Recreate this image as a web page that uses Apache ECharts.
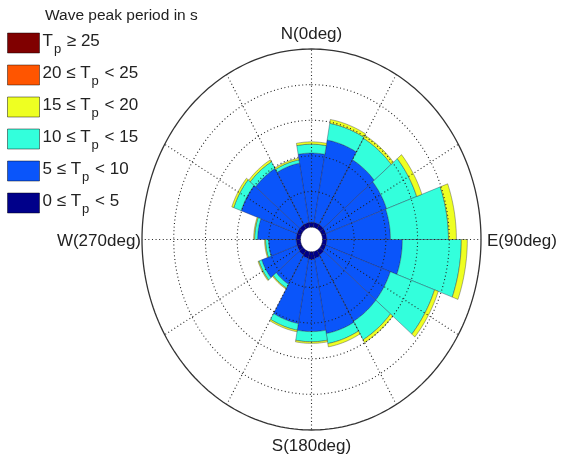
<!DOCTYPE html>
<html>
<head>
<meta charset="utf-8">
<script src="https://cdn.jsdelivr.net/npm/echarts@6/dist/echarts.min.js"></script>
<style>html,body{margin:0;padding:0;background:#fff}#c{width:561px;height:458px}</style>
</head>
<body>
<div id="c"></div>
<script>
// Direction bins (degrees, clockwise from North), 20 deg wide
const directions = [0,20,40,60,80,100,120,140,160,180,200,220,240,260,280,300,320,340];
// Frequency per class (%, one ring = 2 %)
const tp0to5   = [0.28,0.28,0.28,0.28,0.28,0.28,0.28,0.32,0.38,0.44,0.38,0.32,0.28,0.28,0.28,0.28,0.28,0.28];
const tp5to10  = [3.88,4.70,4.20,4.07,4.01,4.76,4.32,4.29,4.29,4.04,3.72,1.89,2.37,1.74,2.43,3.75,3.63,3.38];
const tp10to15 = [0.50,0.95,1.39,2.02,3.66,3.72,2.97,1.20,0.57,0.57,0.38,0.25,0.19,0.19,0.19,0.50,0.44,0.19];
const tp15to20 = [0.13,0.22,0.19,0.35,0.50,0.38,0.25,0.19,0.19,0.09,0.09,0.06,0.06,0.06,0.06,0.13,0.13,0.09];
const tp20to25 = [0,0,0,0,0,0,0,0,0,0,0,0,0,0,0,0,0,0];
const tp25up   = [0,0,0,0,0,0,0,0,0,0,0,0,0,0,0,0,0,0];

const classNames  = ['0-5','5-10','10-15','15-20','20-25','25+'];
const classLabels = {
  '25+':   '{t|T}{s|p}{t| ≥ 25}',
  '20-25': '{t|20 ≤ T}{s|p}{t| < 25}',
  '15-20': '{t|15 ≤ T}{s|p}{t| < 20}',
  '10-15': '{t|10 ≤ T}{s|p}{t| < 15}',
  '5-10':  '{t|5 ≤ T}{s|p}{t| < 10}',
  '0-5':   '{t|0 ≤ T}{s|p}{t| < 5}'
};
const classColors = ['#00008a','#0a55fa','#33ffdc','#eeff22','#ff5500','#800000'];
const ringPercents = [2,4,6,8];
const outerPercent = 10;
const spokeAngles = [0,30,60,90,120,150,180,210,240,270,300,330];
const hub = 0.69;          // radius of the empty centre (in % units)
const binWidth = 20;

const FONT = "'Liberation Sans', Arial, Helvetica, sans-serif";
const R = hub + outerPercent;

const classes = [tp0to5,tp5to10,tp10to15,tp15to20,tp20to25,tp25up];
const cum = directions.map(() => 0);

function pt(api, r, degs) {
  const a = degs * Math.PI / 180;
  return api.coord([(hub + r) * Math.sin(a), (hub + r) * Math.cos(a)]);
}

const series = [];
classes.forEach((arr, ci) => {
  const data = directions.map((d, i) => {
    const s = cum[i]; const e = s + arr[i]; cum[i] = e;
    return [0, 0, d, s, e];
  });
  series.push({
    type: 'custom', name: classNames[ci], coordinateSystem: 'cartesian2d',
    encode: { x: 0, y: 1 }, clip: false, z: 2, silent: true,
    itemStyle: { color: classColors[ci] },
    data: data,
    renderItem: function (params, api) {
      const dir = api.value(2), r0 = api.value(3), r1 = api.value(4);
      if (r1 - r0 <= 0.0001) return null;
      const a0 = dir - binWidth / 2, a1 = dir + binWidth / 2, n = 16;
      const pts = [];
      for (let k = 0; k <= n; k++) pts.push(pt(api, r1, a0 + (a1 - a0) * k / n));
      for (let k = n; k >= 0; k--) pts.push(pt(api, r0, a0 + (a1 - a0) * k / n));
      return { type: 'polygon', shape: { points: pts },
        style: { fill: api.visual('color'), stroke: 'rgba(30,30,60,0.5)', lineWidth: 0.7 } };
    }
  });
});

function ringItem(dash, width, color) {
  return function (params, api) {
    const r = api.value(2); const pts = [];
    for (let k = 0; k <= 240; k++) pts.push(pt(api, r, k * 360 / 240));
    return { type: 'polyline', shape: { points: pts },
      style: { fill: null, stroke: color, lineWidth: width, lineDash: dash } };
  };
}
series.push({
  type: 'custom', coordinateSystem: 'cartesian2d', encode: { x: 0, y: 1 }, clip: false, z: 5, silent: true,
  data: ringPercents.map(r => [0, 0, r]), renderItem: ringItem([1, 2.6], 1.1, '#222')
});
series.push({
  type: 'custom', coordinateSystem: 'cartesian2d', encode: { x: 0, y: 1 }, clip: false, z: 5, silent: true,
  data: [[0, 0, outerPercent]], renderItem: ringItem(null, 1.3, '#333')
});
series.push({
  type: 'custom', coordinateSystem: 'cartesian2d', encode: { x: 0, y: 1 }, clip: false, z: 5, silent: true,
  data: spokeAngles.map(a => [0, 0, a]),
  renderItem: function (params, api) {
    const a = api.value(2);
    const p0 = pt(api, 0, a), p1 = pt(api, outerPercent, a);
    return { type: 'line', shape: { x1: p0[0], y1: p0[1], x2: p1[0], y2: p1[1] },
      style: { stroke: '#222', lineWidth: 1.1, lineDash: [1, 2.6] } };
  }
});

const chart = echarts.init(document.getElementById('c'), null, { renderer: 'canvas' });
chart.setOption({
  animation: false,
  backgroundColor: '#fff',
  title: { text: 'Wave peak period in s', left: 40, top: 3,
    textStyle: { fontFamily: FONT, fontSize: 15.5, fontWeight: 'normal', color: '#222' } },
  legend: {
    orient: 'vertical', left: 7, top: 30, padding: 0, itemWidth: 32, itemHeight: 20, itemGap: 6,
    icon: 'rect', selectedMode: false,
    data: ['25+','20-25','15-20','10-15','5-10','0-5'],
    itemStyle: { borderColor: 'rgba(0,0,0,0.45)', borderWidth: 1 },
    formatter: name => classLabels[name],
    textStyle: {
      fontFamily: FONT, color: '#222', padding: [0, 0, 0, -2],
      rich: {
        t: { fontFamily: FONT, fontSize: 17, color: '#222', lineHeight: 17, verticalAlign: 'top', padding: [3, 0, 0, 0] },
        s: { fontFamily: FONT, fontSize: 13, color: '#222', lineHeight: 26, verticalAlign: 'bottom', padding: [0, 1, 0, 1] }
      }
    }
  },
  grid: { left: 142, right: 80, top: 49, bottom: 28 },
  xAxis: { type: 'value', min: -R, max: R, show: false },
  yAxis: { type: 'value', min: -R, max: R, show: false },
  graphic: [
    { type: 'text', x: 311.5, y: 34, style: { text: 'N(0deg)', fontFamily: FONT, fontSize: 17, fill: '#222', align: 'center', verticalAlign: 'middle' } },
    { type: 'text', x: 311.5, y: 446, style: { text: 'S(180deg)', fontFamily: FONT, fontSize: 17, fill: '#222', align: 'center', verticalAlign: 'middle' } },
    { type: 'text', x: 487, y: 241, style: { text: 'E(90deg)', fontFamily: FONT, fontSize: 17, fill: '#222', align: 'left', verticalAlign: 'middle' } },
    { type: 'text', x: 141, y: 241, style: { text: 'W(270deg)', fontFamily: FONT, fontSize: 17, fill: '#222', align: 'right', verticalAlign: 'middle' } }
  ],
  series: series
});
</script>
</body>
</html>
